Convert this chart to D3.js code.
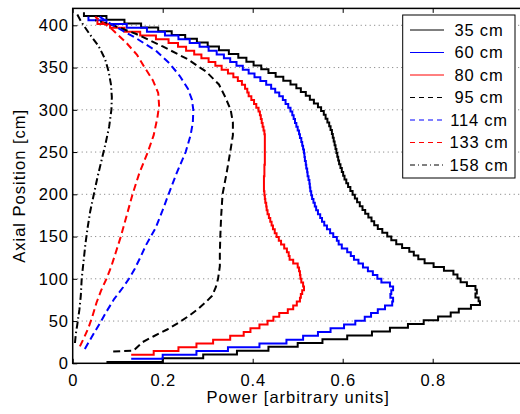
<!DOCTYPE html>
<html>
<head>
<meta charset="utf-8">
<script src="https://cdn.jsdelivr.net/npm/d3@7"></script>
<style>
  body { margin: 0; background: #fff; }
  svg text { font-family: "Liberation Sans", Arial, Helvetica, sans-serif; }
</style>
</head>
<body>
<div id="chart"></div>
<script>
// Axial power profiles at several radial positions

const binWidth = 4.5; // axial mesh width [cm] of the stepped (solid) profiles

// 35 cm, solid black, mesh starts at 1.5 cm
const start35 = 1.5;
const power35 = [0.075, 0.20, 0.29, 0.365, 0.435, 0.50, 0.555, 0.61, 0.665, 0.705,
  0.745, 0.78, 0.812, 0.84, 0.858, 0.885, 0.905, 0.902, 0.895, 0.898,
  0.895, 0.876, 0.862, 0.855, 0.846, 0.825, 0.802, 0.782, 0.768, 0.758,
  0.748, 0.732, 0.719, 0.708, 0.699, 0.688, 0.678, 0.67, 0.664, 0.657,
  0.65, 0.644, 0.638, 0.632, 0.627, 0.622, 0.617, 0.612, 0.608, 0.604,
  0.601, 0.598, 0.595, 0.592, 0.59, 0.588, 0.586, 0.584, 0.582, 0.58,
  0.578, 0.576, 0.573, 0.57, 0.566, 0.562, 0.558, 0.552, 0.545, 0.536,
  0.527, 0.518, 0.507, 0.497, 0.484, 0.468, 0.451, 0.435, 0.419, 0.402,
  0.386, 0.368, 0.347, 0.325, 0.30, 0.276, 0.25, 0.22, 0.19, 0.152,
  0.115, 0.075, 0.025];

// 60 cm, solid blue
const start60 = 5.5;
const power60 = [0.13, 0.20, 0.275, 0.345, 0.415, 0.475, 0.512, 0.545, 0.573, 0.603,
  0.628, 0.649, 0.663, 0.678, 0.694, 0.71, 0.712, 0.706, 0.708, 0.712,
  0.705, 0.686, 0.677, 0.667, 0.656, 0.645, 0.635, 0.625, 0.618, 0.61,
  0.598, 0.591, 0.587, 0.579, 0.572, 0.565, 0.559, 0.554, 0.55, 0.545,
  0.541, 0.538, 0.535, 0.532, 0.53, 0.528, 0.527, 0.526, 0.524, 0.522,
  0.521, 0.519, 0.518, 0.516, 0.515, 0.514, 0.512, 0.51, 0.508, 0.505,
  0.503, 0.50, 0.497, 0.494, 0.491, 0.488, 0.484, 0.479, 0.473, 0.467,
  0.459, 0.45, 0.441, 0.43, 0.417, 0.404, 0.391, 0.378, 0.364, 0.35,
  0.336, 0.32, 0.302, 0.282, 0.26, 0.235, 0.205, 0.165, 0.12, 0.075,
  0.035];

// 80 cm, solid red
const start80 = 10;
const power80 = [0.13, 0.18, 0.235, 0.275, 0.312, 0.35, 0.38, 0.395, 0.415, 0.433,
  0.446, 0.459, 0.478, 0.49, 0.498, 0.505, 0.507, 0.51, 0.514, 0.512,
  0.508, 0.506, 0.505, 0.503, 0.50, 0.49, 0.482, 0.48, 0.476, 0.47,
  0.463, 0.458, 0.453, 0.449, 0.445, 0.442, 0.439, 0.436, 0.433, 0.431,
  0.43, 0.428, 0.427, 0.426, 0.425, 0.425, 0.425, 0.425, 0.426, 0.426,
  0.426, 0.427, 0.427, 0.427, 0.427, 0.427, 0.427, 0.427, 0.427, 0.426,
  0.424, 0.422, 0.42, 0.418, 0.416, 0.413, 0.408, 0.403, 0.397, 0.391,
  0.388, 0.383, 0.376, 0.367, 0.357, 0.345, 0.331, 0.317, 0.302, 0.286,
  0.27, 0.252, 0.234, 0.213, 0.185, 0.15, 0.115, 0.083, 0.055];

// 95 cm, dashed black
const axial95 = [14, 15, 25, 32, 40, 48, 56, 64, 72, 80, 90, 100, 115, 130, 150, 175,
  200, 225, 250, 270, 285, 300, 315, 330, 345, 360, 375, 390, 400, 406];
const power95 = [0.09, 0.135, 0.155, 0.18, 0.21, 0.235, 0.258, 0.278, 0.295, 0.31, 0.318,
  0.323, 0.327, 0.327, 0.328, 0.33, 0.333, 0.342, 0.35, 0.356, 0.356, 0.351, 0.339,
  0.325, 0.297, 0.255, 0.2, 0.14, 0.09, 0.05];

// 114 cm, dashed blue
const axial114 = [17, 30, 48, 62, 76, 90, 100, 112, 125, 140, 160, 180, 200, 225, 250,
  270, 285, 300, 312, 325, 340, 355, 370, 385, 400, 410];
const power114 = [0.027, 0.041, 0.061, 0.076, 0.092, 0.112, 0.125, 0.138, 0.15, 0.163,
  0.184, 0.199, 0.213, 0.231, 0.251, 0.262, 0.267, 0.268, 0.265, 0.256, 0.238, 0.215,
  0.185, 0.14, 0.09, 0.06];

// 133 cm, dashed red
const axial133 = [20, 30, 42, 56, 72, 86, 100, 115, 130, 150, 175, 200, 225, 250, 270,
  290, 305, 320, 335, 350, 365, 380, 395, 410];
const power133 = [0.016, 0.025, 0.035, 0.044, 0.053, 0.063, 0.075, 0.086, 0.095, 0.107,
  0.12, 0.133, 0.148, 0.167, 0.18, 0.188, 0.192, 0.19, 0.178, 0.16, 0.143, 0.118,
  0.088, 0.05];

// 158 cm, dash-dot black
const axial158 = [24, 35, 45, 64, 80, 100, 120, 140, 160, 180, 200, 220, 240, 260, 280,
  300, 315, 330, 345, 360, 375, 390, 405, 415];
const power158 = [0.005, 0.007, 0.01, 0.015, 0.018, 0.02, 0.024, 0.028, 0.033, 0.039,
  0.047, 0.055, 0.064, 0.073, 0.081, 0.086, 0.087, 0.085, 0.08, 0.072, 0.058, 0.037,
  0.018, 0.008];

const labels = ['35 cm', '60 cm', '80 cm', '95 cm', '114 cm', '133 cm', '158 cm'];
const xTicks = [0, 0.2, 0.4, 0.6, 0.8];
const yTicks = [0, 50, 100, 150, 200, 250, 300, 350, 400];

function meshAxial(start, values) {
  return values.map((_, i) => start + i * binWidth);
}

const series = [
  { label: labels[0], axial: meshAxial(start35, power35), power: power35, color: '#000', dash: null, stepped: true },
  { label: labels[1], axial: meshAxial(start60, power60), power: power60, color: '#0000ff', dash: null, stepped: true },
  { label: labels[2], axial: meshAxial(start80, power80), power: power80, color: '#ff0000', dash: null, stepped: true },
  { label: labels[3], axial: axial95, power: power95, color: '#000', dash: '7,4', stepped: false },
  { label: labels[4], axial: axial114, power: power114, color: '#0000ff', dash: '7,4', stepped: false },
  { label: labels[5], axial: axial133, power: power133, color: '#ff0000', dash: '7,4', stepped: false },
  { label: labels[6], axial: axial158, power: power158, color: '#000', dash: '7,3,1.5,3', stepped: false }
];

const width = 520, height = 414;
const plotLeft = 72.7, plotRight = 522.7, plotTop = 8.4, plotBottom = 363.3;

const svg = d3.select('#chart').append('svg')
  .attr('width', width)
  .attr('height', height);

const x = d3.scaleLinear().domain([0, 1]).range([plotLeft, plotRight]);
const y = d3.scaleLinear().domain([0, 420]).range([plotBottom, plotTop]);

// dotted horizontal grid
svg.append('g')
  .selectAll('line')
  .data(yTicks.filter(d => d > 0))
  .enter()
  .append('line')
  .attr('x1', plotLeft).attr('x2', plotRight)
  .attr('y1', d => y(d)).attr('y2', d => y(d))
  .attr('stroke', '#777')
  .attr('stroke-width', 1)
  .attr('stroke-dasharray', '1,3.5');

// curves
series.forEach(s => {
  const pts = s.power.map((p, i) => [p, s.axial[i]]);
  const line = d3.line()
    .x(d => x(d[0]))
    .y(d => y(d[1]))
    .curve(s.stepped ? d3.curveStepAfter : d3.curveLinear);
  svg.append('path')
    .datum(pts)
    .attr('d', line)
    .attr('fill', 'none')
    .attr('stroke', s.color)
    .attr('stroke-width', 2)
    .attr('stroke-dasharray', s.dash);
});

// axes
const fmt = d3.format('~g');
svg.append('g')
  .attr('transform', `translate(0,${plotBottom})`)
  .call(d3.axisBottom(x).tickValues(xTicks).tickFormat(fmt).tickSizeInner(-4.5).tickSizeOuter(0).tickPadding(11));
svg.append('g')
  .attr('transform', `translate(0,${plotTop})`)
  .call(d3.axisTop(x).tickValues(xTicks).tickFormat('').tickSizeInner(-4.5).tickSizeOuter(0));
svg.append('g')
  .attr('transform', `translate(${plotLeft},0)`)
  .call(d3.axisLeft(y).tickValues(yTicks).tickSizeInner(-4.5).tickSizeOuter(0).tickPadding(4));

svg.selectAll('.domain').remove();
svg.selectAll('.tick line').attr('stroke', '#000').attr('stroke-width', 1);
svg.selectAll('.tick text')
  .attr('fill', '#000')
  .style('font-size', '16.5px')
  .style('letter-spacing', '0.8px');

svg.append('rect')
  .attr('x', plotLeft).attr('y', plotTop)
  .attr('width', plotRight - plotLeft).attr('height', plotBottom - plotTop)
  .attr('fill', 'none')
  .attr('stroke', '#000')
  .attr('stroke-width', 1.5);

// axis labels
svg.append('text')
  .attr('x', (plotLeft + plotRight) / 2 + 0.5)
  .attr('y', 403)
  .attr('text-anchor', 'middle')
  .style('font-size', '16.5px')
  .style('letter-spacing', '1px')
  .text('Power [arbitrary units]');

svg.append('text')
  .attr('transform', `translate(25,${(plotTop + plotBottom) / 2}) rotate(-90)`)
  .attr('text-anchor', 'middle')
  .style('font-size', '16.5px')
  .style('letter-spacing', '1px')
  .text('Axial Position [cm]');

// legend
const legend = svg.append('g');
legend.append('rect')
  .attr('x', 402.7).attr('y', 15)
  .attr('width', 112.3).attr('height', 163)
  .attr('fill', '#fff')
  .attr('stroke', '#000')
  .attr('stroke-width', 1);

const legendDash = [null, null, null, '5,4', '5,4', '5,4', '5,3,1,3'];
series.forEach((s, i) => {
  const ly = 30 + i * 22.5;
  legend.append('line')
    .attr('x1', 410).attr('x2', 444)
    .attr('y1', ly).attr('y2', ly)
    .attr('stroke', s.color)
    .attr('stroke-width', 1)
    .attr('stroke-dasharray', legendDash[i]);
  legend.append('text')
    .attr('x', 479)
    .attr('y', ly)
    .attr('dy', '0.36em')
    .attr('text-anchor', 'middle')
    .style('font-size', '16.5px')
    .style('letter-spacing', '0.8px')
    .text(s.label);
});
</script>
</body>
</html>
